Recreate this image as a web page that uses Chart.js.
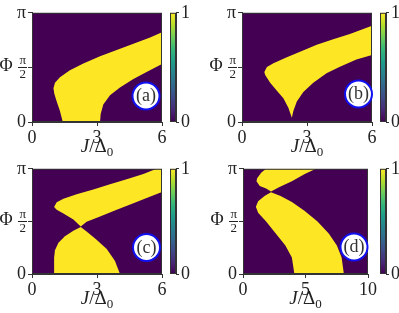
<!DOCTYPE html>
<html>
<head>
<meta charset="utf-8">
<script src="https://cdn.jsdelivr.net/npm/chart.js@4.4.1/dist/chart.umd.min.js"></script>
<style>
html, body { margin: 0; padding: 0; background: #fff; }
#wrap { position: relative; width: 399px; height: 313px; overflow: hidden; }
canvas { position: absolute; }
</style>
</head>
<body>
<div id="wrap">
  <canvas id="pa" width="168" height="156" style="left:0;top:0"></canvas>
  <canvas id="ca" width="33" height="156" style="left:166px;top:0"></canvas>
  <canvas id="pb" width="178" height="156" style="left:200px;top:0"></canvas>
  <canvas id="cb" width="33" height="156" style="left:376px;top:0"></canvas>
  <canvas id="pc" width="168" height="157" style="left:0;top:156px"></canvas>
  <canvas id="cc" width="33" height="157" style="left:166px;top:156px"></canvas>
  <canvas id="pd" width="178" height="157" style="left:200px;top:156px"></canvas>
  <canvas id="cd" width="33" height="157" style="left:376px;top:156px"></canvas>
</div>
<script>
// phase axis ticks
let phiTicks = [0, Math.PI / 2, Math.PI];
let phiLabels = ['0', ['π', '2'], 'π'];
let colorbarTicks = [0, 1];

// (a) yellow region, boundary (J/Δ0, Φ)
let aJ   = [1.42, 1.29, 1.14, 1.03, 0.99, 1.06, 1.29, 1.75, 2.37, 3.14, 3.91, 4.68, 5.45, 6.0, 6.0, 5.29, 4.68, 4.06, 3.60, 3.29, 3.17, 3.14];
let aPhi = [0, 0.32, 0.59, 0.81, 0.97, 1.13, 1.29, 1.49, 1.68, 1.89, 2.07, 2.25, 2.43, 2.58, 1.67, 1.44, 1.24, 0.99, 0.77, 0.50, 0.23, 0];

// (b)
let bJ   = [2.30, 2.14, 1.91, 1.61, 1.30, 1.07, 1.03, 1.15, 1.45, 2.07, 2.68, 3.45, 4.21, 4.98, 6.0, 6.0, 5.28, 4.52, 3.90, 3.29, 2.83, 2.53, 2.37, 2.30];
let bPhi = [0.12, 0.41, 0.68, 0.90, 1.13, 1.35, 1.44, 1.58, 1.69, 1.86, 2.02, 2.22, 2.38, 2.53, 2.77, 1.93, 1.80, 1.59, 1.40, 1.13, 0.86, 0.59, 0.32, 0.12];

// (c) upper band and lower lobe
let c1J   = [1.02, 1.14, 1.45, 2.06, 2.83, 3.60, 4.37, 5.14, 5.75, 6.0, 6.0, 5.29, 4.68, 3.91, 3.14, 2.52, 2.25, 1.91, 1.45, 1.14];
let c1Phi = [2.00, 2.14, 2.25, 2.38, 2.52, 2.68, 2.83, 2.99, 3.14, 3.14, 2.45, 2.27, 2.11, 1.92, 1.72, 1.56, 1.42, 1.63, 1.81, 1.92];
let c2J   = [1.02, 1.02, 1.06, 1.22, 1.52, 1.91, 2.25, 2.52, 2.98, 3.45, 3.83, 4.06];
let c2Phi = [0, 0.48, 0.71, 0.93, 1.13, 1.29, 1.40, 1.27, 1.02, 0.75, 0.39, 0];

// (d) upper lobe and lower band
let d1J   = [1.85, 1.47, 1.13, 1.08, 1.34, 1.85, 2.24, 2.88, 3.91, 4.94, 5.84];
let d1Phi = [3.14, 3.03, 2.86, 2.77, 2.63, 2.55, 2.46, 2.59, 2.77, 2.99, 3.14];
let d2J   = [2.24, 1.72, 1.21, 1.03, 1.21, 1.85, 2.62, 3.39, 3.91, 4.11, 8.07, 7.89, 7.51, 6.86, 5.96, 4.94, 3.91, 3.01];
let d2Phi = [2.44, 2.33, 2.17, 2.01, 1.83, 1.57, 1.21, 0.85, 0.49, 0, 0, 0.49, 0.85, 1.21, 1.57, 1.88, 2.15, 2.33];

const SERIF = '"Liberation Serif", "DejaVu Serif", serif';
const LOW = '#440154', HIGH = '#fde725', EDGE = '#333';
const viridis = ['#440154', '#482878', '#3e4989', '#31688e', '#26828e', '#1f9e89', '#35b779', '#6ece58', '#b5de2b', '#fde725'];

function pts(js, ps) { return js.map((j, i) => ({x: j, y: ps[i]})); }

const regionPlugin = {
  id: 'region',
  beforeDatasetsDraw(chart) {
    const {ctx, chartArea: a} = chart;
    ctx.save();
    ctx.beginPath();
    ctx.rect(a.left, a.top, a.right - a.left, a.bottom - a.top);
    ctx.clip();
    ctx.fillStyle = LOW;
    ctx.fillRect(a.left, a.top, a.right - a.left, a.bottom - a.top);
    chart.data.datasets.forEach((ds, i) => {
      const el = chart.getDatasetMeta(i).data;
      ctx.beginPath();
      el.forEach((p, k) => k ? ctx.lineTo(p.x, p.y) : ctx.moveTo(p.x, p.y));
      ctx.closePath();
      ctx.fillStyle = ds.backgroundColor;
      ctx.fill();
    });
    ctx.restore();
  },
  afterDraw(chart) {
    const {ctx, chartArea: a} = chart;
    const o = chart.options.plugins.region;
    const ys = chart.scales.y;
    ctx.save();
    // frame
    ctx.strokeStyle = EDGE;
    ctx.lineWidth = 1;
    ctx.strokeRect(a.left + 0.5, a.top + 0.5, a.right - a.left - 1, a.bottom - a.top - 1);
    // fraction bar of pi/2
    const yh = Math.round(ys.getPixelForValue(phiTicks[1])) + 0.5;
    ctx.beginPath();
    ctx.moveTo(a.left - 14, yh);
    ctx.lineTo(a.left - 5, yh);
    ctx.strokeStyle = '#222';
    ctx.stroke();
    // Φ
    ctx.fillStyle = '#222';
    ctx.font = '18px ' + SERIF;
    ctx.textAlign = 'center';
    ctx.textBaseline = 'middle';
    ctx.fillText('Φ', a.left - 26, (a.top + a.bottom) / 2 - 1);
    // J/Δ0
    const base = a.bottom + 30;
    ctx.textBaseline = 'alphabetic';
    ctx.textAlign = 'left';
    ctx.font = 'italic 19px ' + SERIF;
    const wJ = ctx.measureText('J').width;
    ctx.font = '19px ' + SERIF;
    const wD = ctx.measureText('/Δ').width;
    ctx.font = '13px ' + SERIF;
    const w0 = ctx.measureText('0').width;
    let x = (a.left + a.right) / 2 - (wJ + wD + w0) / 2;
    ctx.font = 'italic 19px ' + SERIF;
    ctx.fillText('J', x, base);
    x += wJ;
    ctx.font = '19px ' + SERIF;
    ctx.fillText('/Δ', x, base);
    x += wD;
    ctx.font = '13px ' + SERIF;
    ctx.fillText('0', x, base + 4);
    // panel tag
    const cx = a.right + o.dx, cy = a.bottom + o.dy;
    ctx.beginPath();
    ctx.arc(cx, cy, 13.5, 0, Math.PI * 2);
    ctx.fillStyle = '#fff';
    ctx.fill();
    ctx.lineWidth = 2;
    ctx.strokeStyle = '#1010f0';
    ctx.stroke();
    ctx.fillStyle = '#333';
    ctx.font = '18px ' + SERIF;
    ctx.textAlign = 'center';
    ctx.textBaseline = 'middle';
    ctx.fillText(o.tag, cx, cy + 0.5);
    ctx.restore();
  }
};

function makePanel(id, regions, xMax, xTicks, box) {
  return new Chart(document.getElementById(id), {
    type: 'scatter',
    data: {
      datasets: regions.map(r => ({
        data: pts(r[0], r[1]),
        backgroundColor: HIGH,
        pointRadius: 0,
        showLine: false
      }))
    },
    options: {
      responsive: false,
      animation: false,
      layout: {autoPadding: false, padding: {left: 0, top: box.top, right: box.right, bottom: 0}},
      plugins: {
        legend: {display: false},
        tooltip: {enabled: false},
        region: {tag: box.tag, dx: box.dx, dy: box.dy}
      },
      scales: {
        x: {
          type: 'linear', min: 0, max: xMax,
          afterBuildTicks: s => { s.ticks = xTicks.map(v => ({value: v})); },
          afterFit: s => { s.height = box.xh; },
          grid: {drawOnChartArea: false, tickLength: 4, color: EDGE},
          border: {display: true, color: EDGE},
          ticks: {font: {family: SERIF, size: 18}, color: '#222', padding: 1, maxRotation: 0, autoSkip: false,
                  callback: v => String(v)}
        },
        y: {
          type: 'linear', min: 0, max: Math.PI,
          afterBuildTicks: s => { s.ticks = phiTicks.map(v => ({value: v})); },
          afterFit: s => { s.width = box.yw; },
          grid: {drawOnChartArea: false, tickLength: 4, color: EDGE},
          border: {display: true, color: EDGE},
          ticks: {
            autoSkip: false, color: '#222', padding: 2,
            font: c => (c.tick && c.tick.value > 1 && c.tick.value < 2)
              ? {family: SERIF, size: 13, lineHeight: 1.05}
              : {family: SERIF, size: 18},
            callback: v => phiLabels[phiTicks.findIndex(t => Math.abs(t - v) < 1e-6)]
          }
        }
      }
    },
    plugins: [regionPlugin]
  });
}

function makeColorbar(id, top, bottom) {
  return new Chart(document.getElementById(id), {
    type: 'bar',
    data: {
      labels: [''],
      datasets: [{
        data: [1],
        barPercentage: 1,
        categoryPercentage: 1,
        borderWidth: 0,
        backgroundColor: c => {
          const a = c.chart.chartArea;
          if (!a) return LOW;
          const g = c.chart.ctx.createLinearGradient(0, a.bottom, 0, a.top);
          viridis.forEach((col, i) => g.addColorStop(i / (viridis.length - 1), col));
          return g;
        }
      }]
    },
    options: {
      responsive: false,
      animation: false,
      layout: {autoPadding: false, padding: {left: 4, top: top, right: 0, bottom: bottom}},
      plugins: {legend: {display: false}, tooltip: {enabled: false}},
      scales: {
        x: {display: false},
        y: {
          position: 'right', min: 0, max: 1,
          afterBuildTicks: s => { s.ticks = colorbarTicks.map(v => ({value: v})); },
          afterFit: s => { s.width = 23; },
          grid: {drawOnChartArea: false, tickLength: 3, color: EDGE},
          border: {display: true, color: EDGE},
          ticks: {font: {family: SERIF, size: 18}, color: '#222', padding: 2}
        }
      }
    },
    plugins: [{
      id: 'cbframe',
      afterDraw(chart) {
        const {ctx, chartArea: a} = chart;
        ctx.save();
        ctx.strokeStyle = EDGE;
        ctx.lineWidth = 1;
        ctx.strokeRect(a.left + 0.5, a.top + 0.5, a.right - a.left - 1, a.bottom - a.top - 1);
        ctx.restore();
      }
    }]
  });
}

makePanel('pa', [[aJ, aPhi]], 6, [0, 3, 6], {top: 6, right: 6, xh: 34, yw: 32, tag: '(a)', dx: -16, dy: -26});
makePanel('pb', [[bJ, bPhi]], 6, [0, 3, 6], {top: 6, right: 6, xh: 34, yw: 42, tag: '(b)', dx: -13.5, dy: -28});
makePanel('pc', [[c1J, c1Phi], [c2J, c2Phi]], 6, [0, 3, 6], {top: 1, right: 6, xh: 39, yw: 32, tag: '(c)', dx: -15.5, dy: -26.5});
makePanel('pd', [[d1J, d1Phi], [d2J, d2Phi]], 10, [0, 5, 10], {top: 1, right: 6, xh: 39, yw: 43, tag: '(d)', dx: -14, dy: -27});

makeColorbar('ca', 6, 34);
makeColorbar('cb', 6, 34);
makeColorbar('cc', 1, 39);
makeColorbar('cd', 1, 39);
</script>
</body>
</html>
